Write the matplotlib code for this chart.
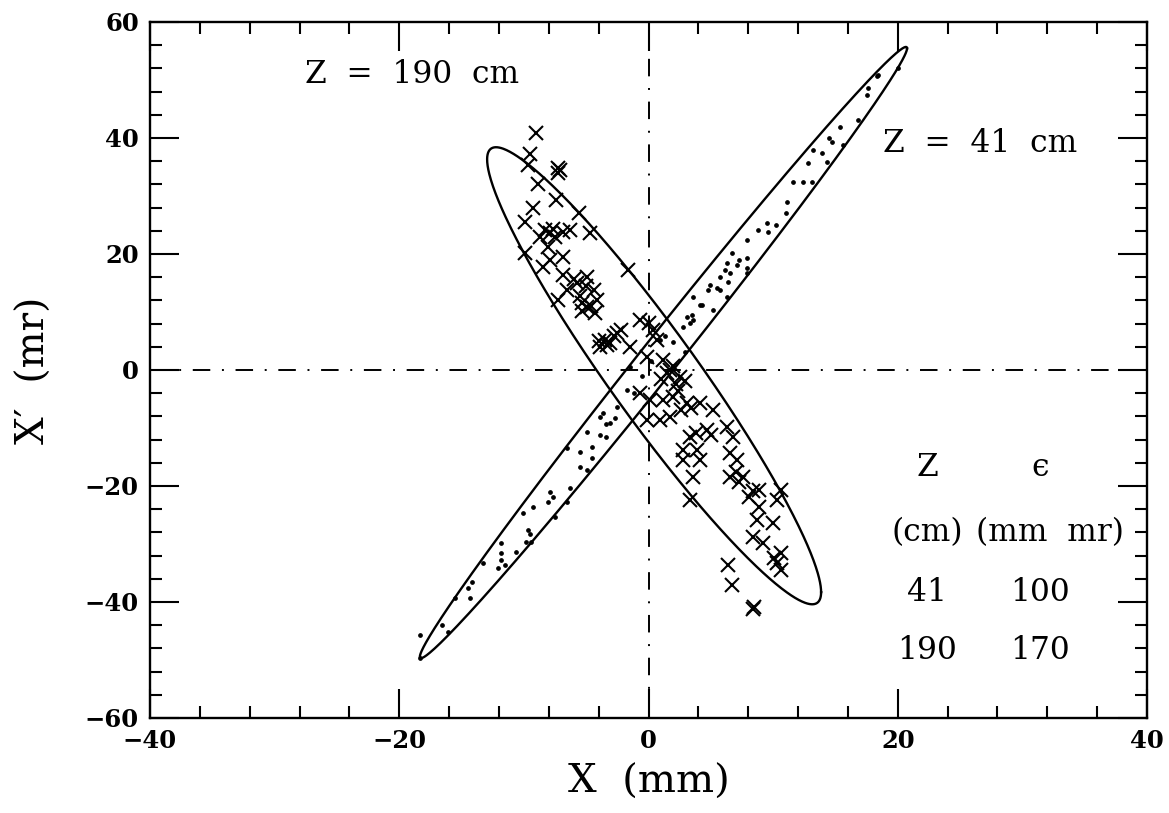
import numpy as np
import matplotlib
matplotlib.use("Agg")
import matplotlib.pyplot as plt
from matplotlib.ticker import MultipleLocator

plt.rcParams['font.family'] = ['DejaVu Serif', 'DejaVu Sans']

# Twiss parameters of the two phase-space ellipses
z_cm = [41, 190]
emit = [100, 170]          # mm mr
beta = [3.82, 1.056]
alpha = [-10.25, 2.94]
x_center = [1.2, 0.45]
xp_center = [3.0, -1.0]

# particles at Z = 41 cm (dots)
z41_x = [20.0, 18.3, 18.4, 17.6, 17.5, 16.8, 15.4, 14.5, 14.7, 15.6, 13.9, 13.2,
         12.8, 14.3, 12.4, 13.1, 11.6, 11.1, 11.0, 10.2, 9.5, 9.6, 8.8, 7.9, 6.7,
         7.3, 7.9, 6.3, 7.1, 7.9, 6.1, 6.5, 5.7, 7.9, 6.4, 4.9, 5.5, 5.7, 4.8, 6.3,
         3.6, 4.3, 5.2, 3.1, 3.6, 3.3, 2.8, 2.0, 2.9, 4.1, 3.5, 0.9, 1.3, -1.5, 0.2,
         -0.5, -1.7, -1.2, -3.9, -3.1, -3.4, -2.7, -2.5, -3.65, -4.9, -3.9, -3.4,
         -4.5, -5.5, -4.5, -5.5, -4.9, -6.5, -6.3, -7.9, -7.7, -8.1, -9.3, -6.5,
         -7.5, -10.1, -9.7, -9.5, -9.8, -9.4, -11.8, -10.6, -11.8, -11.8, -11.5,
         -12.1, -13.3, -14.2, -14.5, -14.3, -15.5, -16.6, -16.1, -18.3, -18.3]
z41_xp = [52.1, 50.7, 50.9, 48.6, 47.4, 43.1, 41.9, 40.0, 39.3, 38.8, 37.4, 37.9,
          35.7, 35.9, 32.4, 32.4, 32.4, 29.0, 27.1, 25.0, 25.3, 23.8, 24.1, 22.4,
          20.2, 19.0, 19.3, 18.4, 18.1, 17.6, 17.2, 16.7, 16.0, 16.7, 15.2, 14.7,
          14.1, 13.8, 13.8, 12.6, 12.6, 11.2, 10.3, 9.1, 8.6, 8.1, 7.4, 4.8, 3.1,
          11.2, 9.5, 5.2, 5.8, 0.5, 1.5, -1.0, -3.4, -3.9, -8.1, -9.1, -9.4, -8.3,
          -6.4, -7.4, -10.7, -11.2, -11.5, -13.3, -14.1, -15.2, -16.7, -17.2,
          -13.4, -20.3, -21.0, -21.9, -22.8, -23.6, -22.8, -25.3, -24.7, -27.6,
          -28.2, -29.7, -29.7, -29.8, -31.4, -31.6, -32.8, -33.6, -34.1, -33.3,
          -36.6, -37.6, -39.3, -39.3, -44.0, -45.2, -45.7, -49.7]

# particles at Z = 190 cm (crosses)
z190_x = [-9.0, -9.5, -9.7, -7.3, -7.3, -7.1, -8.9, -7.4, -9.3, -5.6, -9.9, -4.7,
          -8.3, -7.5, -6.9, -6.3, -8.7, -7.9, -7.7, -9.9, -8.1, -7.9, -6.9, -8.5,
          -1.65, -6.9, -5.7, -4.9, -4.4, -6.5, -7.3, -5.3, -4.1, -5.0, -5.5, -4.6,
          -6.0, -4.9, -5.3, -4.3, -0.7, 0.0, -2.5, -2.8, -3.1, -3.5, -3.9, -1.5,
          0.7, 0.4, -2.2, -0.1, 1.2, 1.7, 2.0, 1.5, 2.5, 2.9, 2.2, 1.0, -0.7, 0.1,
          1.2, 2.0, 2.4, 3.1, 3.4, 4.1, -0.1, 0.9, 1.7, 5.2, 2.6, 3.3, 3.8, 4.7,
          5.0, 6.3, 6.8, 2.8, 3.9, 2.8, 4.1, 6.5, 7.1, 3.6, 3.3, 6.5, 7.0, 7.6,
          7.3, 8.1, 8.4, 8.9, 10.6, 10.3, 8.9, 8.7, 10.0, 8.4, 9.2, 10.6, 10.3,
          10.6, 10.1, 6.4, 6.7, 8.5, 8.4, -4.0, -3.3]
z190_xp = [40.9, 37.2, 35.3, 34.8, 34.0, 34.4, 32.1, 29.3, 27.9, 27.1, 25.5, 23.6,
           24.1, 22.9, 23.8, 24.1, 22.9, 23.6, 24.3, 20.2, 21.2, 19.0, 19.5, 17.8,
           17.2, 16.4, 15.0, 16.0, 13.8, 13.8, 12.1, 11.6, 12.1, 14.5, 12.8, 11.0,
           15.6, 10.9, 10.2, 9.8, 8.6, 8.1, 6.4, 5.8, 4.7, 5.2, 4.0, 4.0, 5.2, 6.9,
           6.9, 2.2, 1.7, 0.0, 0.6, -0.6, -1.2, -1.9, -2.4, -1.5, -4.0, -5.2, -5.2,
           -4.7, -3.6, -5.7, -6.5, -5.7, -8.6, -8.6, -8.1, -6.9, -6.9, -11.6,
           -10.9, -10.3, -11.2, -9.8, -11.6, -13.8, -13.8, -15.5, -15.5, -14.3,
           -15.5, -18.4, -22.4, -18.4, -17.6, -18.4, -19.4, -21.9, -20.9, -20.7,
           -20.7, -22.4, -23.6, -25.9, -26.4, -28.8, -29.8, -31.6, -33.3, -34.5,
           -32.5, -33.6, -37.1, -40.9, -41.3, 5.0, 4.3]

fig = plt.figure(figsize=(11.69, 8.13), dpi=100)
ax = fig.add_axes([0.1283, 0.1169, 0.8529, 0.8561])

# reference axes through the origin
dashdot = (0, (9, 6, 1, 6))
ax.axhline(0, color='black', lw=1.4, linestyle=dashdot, zorder=1)
ax.axvline(0, color='black', lw=1.4, linestyle=dashdot, zorder=1)

# acceptance ellipses: gamma x^2 + 2 alpha x x' + beta x'^2 = eps
t = np.linspace(0, 2 * np.pi, 600)
for e, b, a, xc, pc in zip(emit, beta, alpha, x_center, xp_center):
    ex = np.sqrt(e * b) * np.cos(t)
    exp_ = -np.sqrt(e / b) * (a * np.cos(t) + np.sin(t))
    ax.plot(ex + xc, exp_ + pc, color='black', lw=1.7, zorder=2)

ax.plot(z41_x, z41_xp, linestyle='none', marker='o', ms=2.4, color='black', zorder=3)
ax.plot(z190_x, z190_xp, linestyle='none', marker='x', ms=9.5, mew=1.5,
        color='black', zorder=3)

ax.set_xlim(-40, 40)
ax.set_ylim(-60, 60)
ax.xaxis.set_major_locator(MultipleLocator(20))
ax.xaxis.set_minor_locator(MultipleLocator(4))
ax.yaxis.set_major_locator(MultipleLocator(20))
ax.yaxis.set_minor_locator(MultipleLocator(4))
ax.tick_params(which='both', direction='in', top=True, right=True, width=1.5)
ax.tick_params(which='major', length=21, pad=8, labelsize=17.5)
ax.tick_params(which='minor', length=8.5)
for lab in ax.get_xticklabels() + ax.get_yticklabels():
    lab.set_fontweight('bold')
for s in ax.spines.values():
    s.set_linewidth(1.7)

ax.set_xlabel('X  (mm)', fontsize=29, labelpad=8)
ax.set_ylabel('X\u2032  (mr)', fontsize=28)
ax.yaxis.set_label_coords(-0.097, 0.5)

ax.text(-27.6, 50.9, 'Z  =  190  cm', fontsize=22.5, va='center', ha='left')
ax.text(18.8, 39.1, 'Z  =  41  cm', fontsize=22.5, va='center', ha='left')

# summary table
col_x = [22.35, 31.4]
ax.text(col_x[0], -16.9, 'Z', fontsize=22.5, ha='center', va='center')
ax.text(col_x[1], -16.9, '\u03f5', fontsize=22.5, ha='center', va='center')
ax.text(col_x[0], -28.1, '(cm)', fontsize=22.5, ha='center', va='center')
ax.text(32.2, -28.1, '(mm  mr)', fontsize=22.5, ha='center', va='center')
for row_y, z, e in zip([-38.3, -48.4], z_cm, emit):
    ax.text(col_x[0], row_y, str(z), fontsize=22.5, ha='center', va='center')
    ax.text(col_x[1], row_y, str(e), fontsize=22.5, ha='center', va='center')

fig.savefig('out.png', dpi=100)
